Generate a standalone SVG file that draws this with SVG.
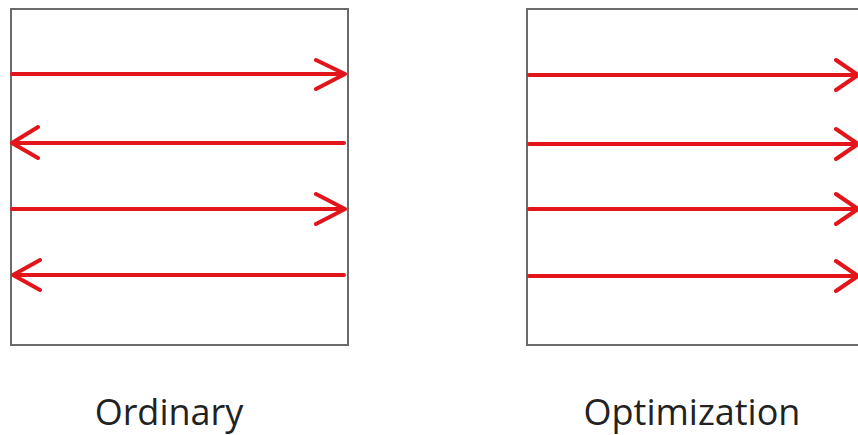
<svg xmlns="http://www.w3.org/2000/svg" width="858" height="435" viewBox="0 0 858 435">
<style>
.box{fill:none;stroke:#6b6b6b;stroke-width:2}
.arr{fill:none;stroke:#e4141b;stroke-width:4;stroke-linecap:round;stroke-linejoin:round}
.lbl{font-family:"Open Sans","Liberation Sans",sans-serif;font-size:36px;fill:#222;text-anchor:middle}
</style>
<rect width="858" height="435" fill="#fff"/>
<g id="ordinary">
<rect class="box" x="11" y="9" width="337" height="336"/>
<text class="lbl" x="169" y="425">Ordinary</text>
</g>
<g id="optimization">
<rect class="box" x="527" y="9" width="340" height="336"/>
<text class="lbl" x="692" y="425">Optimization</text>
</g>
<g id="connectors">
<path class="arr" d="M12 74H345M316 60L345 74L316 89"/>
<path class="arr" d="M344 143H12M38 127L12 143L38 158"/>
<path class="arr" d="M12 209H345M316 194L345 209L316 224"/>
<path class="arr" d="M344 275H13M40 260L13 275L40 290"/>
<path class="arr" d="M529 75H858M836 60L858 75L836 90"/>
<path class="arr" d="M529 144H858M836 129L858 144L836 159"/>
<path class="arr" d="M529 209H858M836 194L858 209L836 224"/>
<path class="arr" d="M529 276H858M836 261L858 276L836 291"/>
</g>
</svg>
